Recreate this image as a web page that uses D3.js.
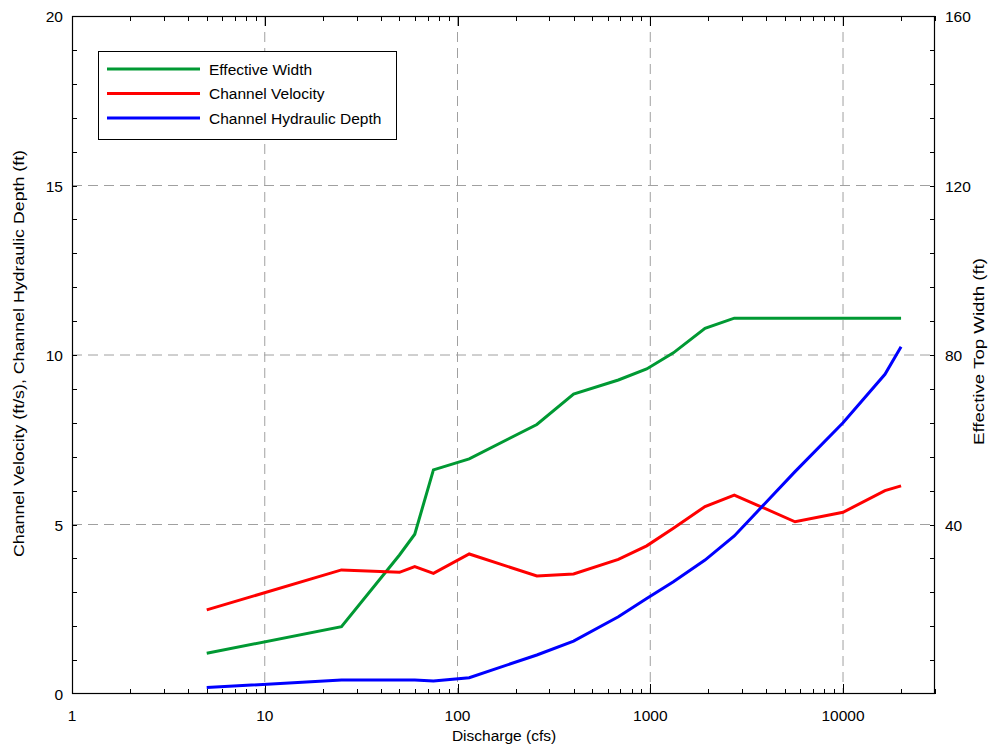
<!DOCTYPE html>
<html><head><meta charset="utf-8">
<script src="https://cdn.jsdelivr.net/npm/d3@7"></script>
<style>body{margin:0;background:#fff}svg{display:block;font-family:Arial,"Liberation Sans",sans-serif}</style>
</head><body>
<script>
const discharge = [5,25,50,60,75,115,258,400,683,958,1318,1923,2728,5636,10000,16500,20000];
const effectiveWidth = [9.6,15.9,32.8,37.7,52.9,55.5,63.6,70.8,74.1,76.7,80.5,86.3,88.7,88.7,88.7,88.7,88.7];
const channelVelocity = [2.48,3.66,3.59,3.76,3.56,4.13,3.48,3.54,3.97,4.37,4.89,5.53,5.87,5.08,5.36,6.00,6.14];
const hydraulicDepth = [0.19,0.41,0.41,0.41,0.38,0.48,1.15,1.56,2.28,2.82,3.31,3.95,4.66,6.56,8.00,9.43,10.24];
const xTicks = [1,10,100,1000,10000];
const yLeftTicks = [0,5,10,15,20];
const yRightTicks = [40,80,120,160];
const legendLabels = ["Effective Width","Channel Velocity","Channel Hydraulic Depth"];
const colors = ["#009933","#ff0000","#0000ff"];

const W=992,H=746, L=72,R=935,T=16,B=694;
const FS=15.5;
const svg=d3.select("body").append("svg").attr("width",W).attr("height",H);
const x=d3.scaleLog().domain([1,30000]).range([L,R]);
const yL=d3.scaleLinear().domain([0,20]).range([B,T]);
const yR=d3.scaleLinear().domain([0,160]).range([B,T]);

// grid
const grid=svg.append("g").attr("stroke","#a0a0a0").attr("stroke-width",1).attr("stroke-dasharray","10,6");
xTicks.slice(1).forEach(v=>grid.append("line").attr("x1",x(v)).attr("x2",x(v)).attr("y1",T).attr("y2",B));
[5,10,15].forEach(v=>grid.append("line").attr("x1",L).attr("x2",R).attr("y1",yL(v)).attr("y2",yL(v)));

// ticks
const minorX=[];
for(let d=1; d<=10000; d*=10) for(let k=1;k<=9;k++){const v=d*k; if(v<=30000) minorX.push(v);}
const tk=svg.append("g").attr("stroke","#000").attr("stroke-width",1);
minorX.forEach(v=>{
  const isMajor=xTicks.includes(v);
  const len=isMajor?10:5;
  const xx=Math.round(x(v))+0.5;
  tk.append("line").attr("x1",xx).attr("x2",xx).attr("y1",B).attr("y2",B-len);
  tk.append("line").attr("x1",xx).attr("x2",xx).attr("y1",T).attr("y2",T+len);
});
for(let v=1;v<20;v++){
  const yy=Math.round(yL(v))+0.5;
  tk.append("line").attr("x1",L).attr("x2",L+5).attr("y1",yy).attr("y2",yy);
  tk.append("line").attr("x1",R).attr("x2",R-5).attr("y1",yy).attr("y2",yy);
}
// frame
svg.append("rect").attr("x",L+0.5).attr("y",T+0.5).attr("width",R-L-1).attr("height",B-T-1)
  .attr("fill","none").attr("stroke","#000").attr("stroke-width",1.2);

// tick labels
const tl=svg.append("g").attr("font-size",FS).attr("fill","#000");
xTicks.forEach(v=>tl.append("text").attr("x",x(v)).attr("y",B+27).attr("text-anchor","middle").text(d3.format("d")(v)));
yLeftTicks.forEach(v=>tl.append("text").attr("x",L-9).attr("y",yL(v)+6).attr("text-anchor","end").text(v));
yRightTicks.forEach(v=>tl.append("text").attr("x",R+10).attr("y",yR(v)+6).attr("text-anchor","start").text(v));

// axis titles
svg.append("text").attr("x",(L+R)/2+0.5).attr("y",741).attr("text-anchor","middle").attr("font-size",FS).text("Discharge (cfs)");
svg.append("text").attr("transform",`translate(24,353.5) rotate(-90)`).attr("text-anchor","middle").attr("font-size",FS)
  .attr("textLength",407).attr("lengthAdjust","spacingAndGlyphs")
  .text("Channel Velocity (ft/s), Channel Hydraulic Depth (ft)");
svg.append("text").attr("transform",`translate(984,351.5) rotate(-90)`).attr("text-anchor","middle").attr("font-size",FS)
  .attr("textLength",187).attr("lengthAdjust","spacingAndGlyphs")
  .text("Effective Top Width (ft)");

// series
const plot=svg.append("g");
const lineR=d3.line().x(d=>x(d[0])).y(d=>yR(d[1]));
const lineL=d3.line().x(d=>x(d[0])).y(d=>yL(d[1]));
plot.append("path").datum(d3.zip(discharge,effectiveWidth)).attr("d",lineR).attr("fill","none").attr("stroke",colors[0]).attr("stroke-width",3);
plot.append("path").datum(d3.zip(discharge,channelVelocity)).attr("d",lineL).attr("fill","none").attr("stroke",colors[1]).attr("stroke-width",3);
plot.append("path").datum(d3.zip(discharge,hydraulicDepth)).attr("d",lineL).attr("fill","none").attr("stroke",colors[2]).attr("stroke-width",3);

// legend
const lg=svg.append("g");
lg.append("rect").attr("x",98.5).attr("y",51.5).attr("width",298).attr("height",88).attr("fill","#fff").attr("stroke","#000").attr("stroke-width",1);
legendLabels.forEach((t,i)=>{
  const yy=69+i*24.5;
  lg.append("line").attr("x1",107).attr("x2",200).attr("y1",yy).attr("y2",yy).attr("stroke",colors[i]).attr("stroke-width",3);
  lg.append("text").attr("x",209).attr("y",yy+5.5).attr("font-size",FS).text(t);
});
</script>
</body></html>
